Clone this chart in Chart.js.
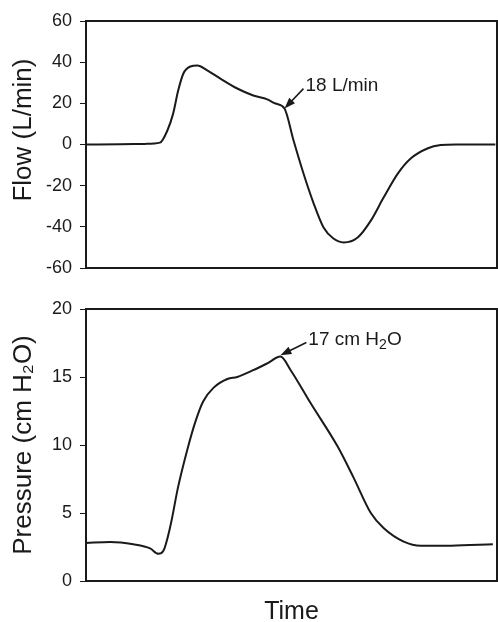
<!DOCTYPE html>
<html lang="en">
<head>
    <meta charset="UTF-8">
    <title>Flow and Pressure vs Time</title>
    <script src="https://cdn.jsdelivr.net/npm/chart.js"></script>
    <style>
        body {
            margin: 0;
            background: #ffffff;
        }
        .wrap {
            width: 498px;
            height: 622px;
        }
        canvas {
            display: block;
        }
    </style>
</head>
<body>
    <div class="wrap">
        <canvas id="flowChart" width="498" height="290"></canvas>
        <canvas id="pressureChart" width="498" height="332"></canvas>
    </div>

    <script>
        // time in arbitrary units (0 - 100 across the panel)
        const flowTime = [0, 8.3, 14.4, 18.0, 19.8, 21.2, 22.4, 23.7, 25.4, 27.1, 29.5, 32.7, 36.8, 40.7, 44.1, 46.1, 48.3,
            50.5, 52.9, 55.4, 57.8, 60.2, 62.7, 66.1, 69.3, 72.4, 75.9, 79.0, 83.2, 86.3, 90.0, 99.6];
        const flowValues = [0, 0.1, 0.3, 0.9, 6.8, 15, 26, 34.5, 37.9, 38.4, 36, 32, 27.2, 23.8, 21.9, 19.9, 17.5,
            1.9, -14, -28.7, -40.3, -45.7, -47.6, -45.2, -37, -25.8, -14, -6.8, -1.8, -0.3, 0, 0];

        const pressureTime = [0, 5.9, 11.5, 15.6, 17.6, 18.8, 20.5, 22.4, 24.6, 26.6, 28.5, 31.0, 34.4, 36.8, 40.7, 44.1, 47.3,
            49.8, 54.6, 61.2, 65.1, 69.3, 72.4, 77.3, 81.5, 88.8, 99.0];
        const pressureValues = [2.8, 2.87, 2.7, 2.4, 2.0, 2.2, 4.0, 6.9, 9.6, 11.7, 13.2, 14.2, 14.85, 15.0, 15.5, 16.0, 16.5,
            15.5, 13.1, 9.9, 7.6, 5.0, 3.9, 2.9, 2.6, 2.6, 2.7];

        // annotation: arrow tip [time, value], text anchor [time, value], text pieces [text, isSubscript]
        const flowNoteTip = [48.3, 17.5];
        const flowNoteText = [53.4, 29.6];
        const flowNoteLabel = [['18 L/min', false]];
        const pressureNoteTip = [47.3, 16.6];
        const pressureNoteText = [54.1, 17.9];
        const pressureNoteLabel = [['17 cm H', false], ['2', true], ['O', false]];

        const FONT = '"Liberation Sans", Arial, Helvetica, sans-serif';
        const INK = '#1a1a1a';

        const framePlugin = {
            id: 'frame',
            afterDatasetsDraw(chart, args, opts) {
                const { ctx, chartArea: a, scales: { x, y } } = chart;
                ctx.save();
                ctx.strokeStyle = INK;
                ctx.lineWidth = 2;
                ctx.strokeRect(a.left, a.top, a.width, a.height);

                if (opts.tip) {
                    const px = x.getPixelForValue(opts.tip[0]);
                    const py = y.getPixelForValue(opts.tip[1]);
                    const tx = x.getPixelForValue(opts.text[0]);
                    const ty = y.getPixelForValue(opts.text[1]);

                    // label text, with subscripts
                    ctx.fillStyle = INK;
                    ctx.textBaseline = 'alphabetic';
                    let cx = tx;
                    opts.label.forEach(([s, sub]) => {
                        ctx.font = (sub ? '14px ' : '19px ') + FONT;
                        ctx.fillText(s, cx, ty + (sub ? 11 : 7));
                        cx += ctx.measureText(s).width;
                    });

                    // arrow
                    const sx = tx - 2, sy = ty + 5;
                    const ang = Math.atan2(py - sy, px - sx);
                    const c = Math.cos(ang), s = Math.sin(ang);
                    ctx.lineWidth = 1.6;
                    ctx.beginPath();
                    ctx.moveTo(sx, sy);
                    ctx.lineTo(px - 8 * c, py - 8 * s);
                    ctx.stroke();
                    ctx.beginPath();
                    ctx.moveTo(px, py);
                    ctx.lineTo(px - 11 * c + 4 * s, py - 11 * s - 4 * c);
                    ctx.lineTo(px - 11 * c - 4 * s, py - 11 * s + 4 * c);
                    ctx.closePath();
                    ctx.fill();
                }
                ctx.restore();
            }
        };

        function yAxis(min, max, step, title) {
            return {
                min: min,
                max: max,
                ticks: { stepSize: step, color: INK, font: { size: 18, family: FONT }, padding: 8 },
                grid: { drawOnChartArea: false, tickLength: 6, color: INK, lineWidth: 1 },
                border: { display: false },
                title: {
                    display: true,
                    text: title,
                    color: INK,
                    font: { size: 26, family: FONT },
                    padding: { top: 8, bottom: 0 }
                },
                afterFit(scale) { scale.width = 86; }
            };
        }

        function lineData(times, values) {
            return {
                datasets: [{
                    data: times.map((t, i) => ({ x: t, y: values[i] })),
                    borderColor: INK,
                    borderWidth: 2,
                    pointRadius: 0,
                    fill: false,
                    cubicInterpolationMode: 'monotone'
                }]
            };
        }

        new Chart(document.getElementById('flowChart'), {
            type: 'line',
            data: lineData(flowTime, flowValues),
            options: {
                responsive: false,
                animation: false,
                layout: { padding: { top: 21, bottom: 22, left: 0, right: 1 } },
                plugins: {
                    legend: { display: false },
                    tooltip: { enabled: false },
                    frame: { tip: flowNoteTip, text: flowNoteText, label: flowNoteLabel }
                },
                scales: {
                    x: { type: 'linear', min: 0, max: 100, display: false },
                    // leading spaces push the title up a bit, like in the original figure
                    y: yAxis(-60, 60, 20, '\u00a0\u00a0\u00a0\u00a0Flow (L/min)')
                }
            },
            plugins: [framePlugin]
        });

        new Chart(document.getElementById('pressureChart'), {
            type: 'line',
            data: lineData(pressureTime, pressureValues),
            options: {
                responsive: false,
                animation: false,
                layout: { padding: { top: 19, bottom: 0, left: 0, right: 1 } },
                plugins: {
                    legend: { display: false },
                    tooltip: { enabled: false },
                    frame: { tip: pressureNoteTip, text: pressureNoteText, label: pressureNoteLabel }
                },
                scales: {
                    x: {
                        type: 'linear',
                        min: 0,
                        max: 100,
                        ticks: { display: false },
                        grid: { display: false },
                        border: { display: false },
                        title: {
                            display: true,
                            text: 'Time',
                            color: INK,
                            font: { size: 25, family: FONT, lineHeight: 0.8 },
                            padding: 0
                        },
                        afterFit(scale) { scale.height = 41; }
                    },
                    y: yAxis(0, 20, 5, 'Pressure (cm H\u2082O)')
                }
            },
            plugins: [framePlugin]
        });
    </script>
</body>
</html>
